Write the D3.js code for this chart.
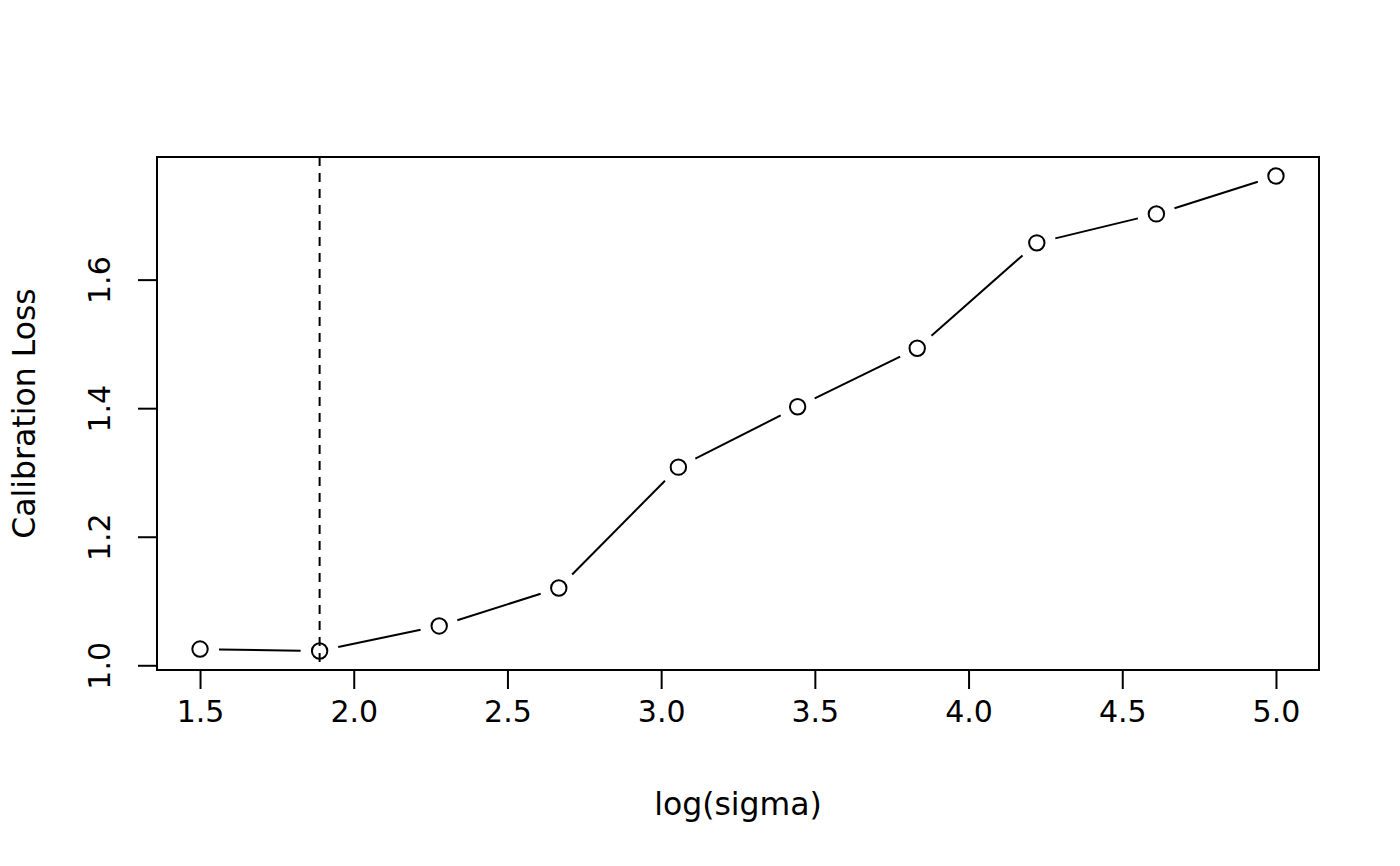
<!DOCTYPE html>
<html>
<head>
	<script src="https://d3js.org/d3.v7.min.js"></script>
	<style>
		body { margin: 0; background: #fff; }
		text { font-family: "DejaVu Sans", sans-serif; fill: #000; }
	</style>
</head>
<body>
	<div class="chart"></div>
	<script>
		// data
		var logSigma = [1.5, 1.889, 2.278, 2.667, 3.056, 3.444, 3.833, 4.222, 4.611, 5.0];
		var calLoss = [1.026, 1.023, 1.062, 1.121, 1.309, 1.403, 1.494, 1.658, 1.703, 1.762];
		var xTicks = [1.5, 2.0, 2.5, 3.0, 3.5, 4.0, 4.5, 5.0];
		var yTicks = [1.0, 1.2, 1.4, 1.6];
		var bestSigma = 1.889;

		var w = 1400, h = 866;
		var pl = 157, pr = 1319, pt = 157, pb = 670;
		var fs = "30px", tfs = "31.5px";

		var svg = d3.select(".chart")
			.append("svg")
			.attr("width", w)
			.attr("height", h);

		// R style 4% padding on the ranges
		var xr = d3.extent(logSigma), yr = d3.extent(calLoss);
		var xpad = (xr[1] - xr[0]) * 0.04, ypad = (yr[1] - yr[0]) * 0.04;
		var x = d3.scaleLinear().domain([xr[0] - xpad, xr[1] + xpad]).range([pl, pr]);
		var y = d3.scaleLinear().domain([yr[0] - ypad, yr[1] + ypad]).range([pb, pt]);

		// axes
		var xAxis = svg.append("g")
			.attr("transform", "translate(0," + pb + ")")
			.call(d3.axisBottom(x).tickValues(xTicks).tickFormat(d3.format(".1f")).tickSize(19).tickPadding(12));
		var yAxis = svg.append("g")
			.attr("transform", "translate(" + pl + ",0)")
			.call(d3.axisLeft(y).tickValues(yTicks).tickFormat(d3.format(".1f")).tickSize(19));
		[xAxis, yAxis].forEach(function(a) {
			a.select(".domain").remove();
			a.selectAll("line").attr("stroke", "#000").attr("stroke-width", 2);
			a.selectAll("text").style("font-size", fs).attr("font-family", null);
		});
		// y tick labels are turned like R's las = 0
		yAxis.selectAll(".tick").attr("transform", null);
		yAxis.selectAll(".tick line")
			.attr("y1", function(d) { return y(d); })
			.attr("y2", function(d) { return y(d); });
		yAxis.selectAll(".tick text")
			.attr("x", null).attr("y", null).attr("dy", null)
			.attr("text-anchor", "middle")
			.attr("transform", function(d) { return "translate(-47," + y(d) + ") rotate(-90)"; });

		// plot box
		svg.append("rect")
			.attr("x", pl).attr("y", pt)
			.attr("width", pr - pl).attr("height", pb - pt)
			.attr("fill", "none").attr("stroke", "#000").attr("stroke-width", 2);

		// dashed line at the chosen sigma
		svg.append("line")
			.attr("x1", x(bestSigma)).attr("x2", x(bestSigma))
			.attr("y1", pt).attr("y2", pb)
			.attr("stroke", "#000").attr("stroke-width", 2)
			.attr("stroke-dasharray", "9,7");

		// type = "b": segments stop short of the points
		var r = 7.7, gap = 19;
		var pts = logSigma.map(function(d, i) { return [x(d), y(calLoss[i])]; });
		var segs = d3.pairs(pts).map(function(p) {
			var dx = p[1][0] - p[0][0], dy = p[1][1] - p[0][1];
			var len = Math.sqrt(dx * dx + dy * dy);
			var ux = dx / len, uy = dy / len;
			return [p[0][0] + ux * gap, p[0][1] + uy * gap, p[1][0] - ux * gap, p[1][1] - uy * gap];
		});
		svg.append("g").selectAll("line")
			.data(segs)
			.enter()
			.append("line")
			.attr("x1", function(d) { return d[0]; })
			.attr("y1", function(d) { return d[1]; })
			.attr("x2", function(d) { return d[2]; })
			.attr("y2", function(d) { return d[3]; })
			.attr("stroke", "#000").attr("stroke-width", 2);
		svg.append("g").selectAll("circle")
			.data(pts)
			.enter()
			.append("circle")
			.attr("cx", function(d) { return d[0]; })
			.attr("cy", function(d) { return d[1]; })
			.attr("r", r)
			.attr("fill", "none").attr("stroke", "#000").attr("stroke-width", 2);

		// axis titles
		svg.append("text")
			.attr("x", (pl + pr) / 2).attr("y", 815)
			.attr("text-anchor", "middle")
			.style("font-size", tfs)
			.text("log(sigma)");
		svg.append("text")
			.attr("transform", "translate(35," + ((pt + pb) / 2) + ") rotate(-90)")
			.attr("text-anchor", "middle")
			.style("font-size", tfs)
			.text("Calibration Loss");
	</script>
</body>
</html>
